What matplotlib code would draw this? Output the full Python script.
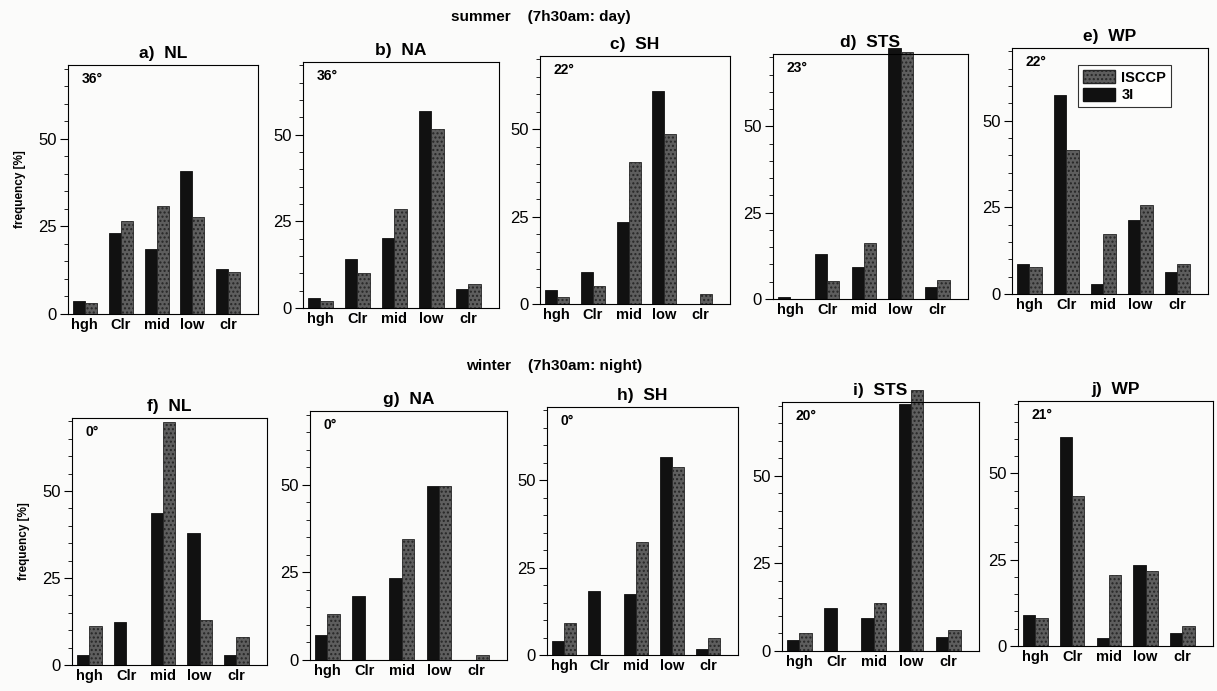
import matplotlib
matplotlib.use("Agg")
import matplotlib.pyplot as plt
from matplotlib.patches import Patch
from matplotlib.ticker import MultipleLocator
import numpy as np

plt.rcParams['font.family'] = ['Liberation Sans', 'DejaVu Sans']

categories = ['hgh', 'Clr', 'mid', 'low', 'clr']

# summer (7h30am: day)
titles_summer = ['a)  NL', 'b)  NA', 'c)  SH', 'd)  STS', 'e)  WP']
angles_summer = ['36°', '36°', '22°', '23°', '22°']
i3_summer = [
    [3.8, 23.2, 18.5, 40.8, 12.9],
    [2.8, 14.1, 20.2, 56.8, 5.6],
    [3.9, 9.1, 23.4, 60.9, 0.0],
    [0.7, 12.9, 9.2, 72.8, 3.5],
    [8.7, 57.5, 3.0, 21.4, 6.4],
]
isccp_summer = [
    [3.0, 26.4, 30.7, 27.8, 12.0],
    [1.9, 10.0, 28.5, 51.7, 6.8],
    [2.1, 5.2, 40.7, 48.8, 2.8],
    [0.0, 5.1, 16.3, 71.6, 5.6],
    [7.8, 41.5, 17.2, 25.7, 8.6],
]

# winter (7h30am: night)
titles_winter = ['f)  NL', 'g)  NA', 'h)  SH', 'i)  STS', 'j)  WP']
angles_winter = ['0°', '0°', '0°', '20°', '21°']
i3_winter = [
    [3.0, 12.4, 43.6, 37.8, 3.0],
    [7.0, 18.3, 23.4, 49.6, 0.0],
    [4.0, 18.3, 17.5, 56.6, 1.8],
    [3.0, 12.3, 9.5, 70.5, 3.9],
    [9.0, 60.5, 2.3, 23.6, 3.7],
]
isccp_winter = [
    [11.1, 0.0, 69.8, 12.9, 8.1],
    [13.2, 0.0, 34.6, 49.6, 1.5],
    [9.1, 0.0, 32.4, 53.7, 5.0],
    [5.2, 0.0, 13.7, 74.4, 6.0],
    [8.1, 43.4, 20.5, 21.7, 5.7],
]

W, H = 1217, 691
fig = plt.figure(figsize=(W / 100, H / 100), dpi=100)
fig.patch.set_facecolor('#fbfbfa')

# panel boxes in pixels: left, top, width, bottom (scan is slightly tilted)
boxes_summer = [(68, 65, 190, 314), (303, 62, 196, 308), (540, 56, 190, 304),
                (773, 54, 195, 299), (1012, 48, 196, 294)]
boxes_winter = [(72, 418, 195, 665), (310, 411, 197, 660), (547, 407, 191, 655),
                (782, 402, 197, 651), (1018, 401, 195, 646)]

black = '#111111'
gray = '#5e5e5e'
x = np.arange(len(categories))
bw = 0.335


def panel(box, title, angle, i3, isccp, ylabel=False, legend=False):
    l, t, w, b = box
    ax = fig.add_axes([l / W, 1 - b / H, w / W, (b - t) / H])
    ax.set_facecolor('none')
    ax.bar(x - bw / 2, i3, bw, color=black, edgecolor=black, lw=0.6, clip_on=False)
    ax.bar(x + bw / 2, isccp, bw, color=gray, edgecolor='#262626', lw=0.6,
           hatch='....', clip_on=False)
    ax.set_xlim(-0.47, 4.83)
    ax.set_ylim(0, 71)
    ax.set_yticks([0, 25, 50])
    ax.yaxis.set_minor_locator(MultipleLocator(5))
    ax.tick_params(axis='y', which='major', length=6, width=0.8, labelsize=12, pad=2)
    ax.tick_params(axis='y', which='minor', length=3, width=0.6)
    ax.set_xticks(x)
    ax.set_xticklabels(categories, fontweight='bold', fontsize=10.5)
    ax.tick_params(axis='x', length=0, pad=3)
    for s in ax.spines.values():
        s.set_linewidth(0.8)
    ax.set_title(title, fontweight='bold', fontsize=12.5, pad=5)
    ax.text(0.07, 0.97, angle, transform=ax.transAxes, fontweight='bold',
            fontsize=10, va='top', ha='left')
    if ylabel:
        ax.set_ylabel('frequency [%]', fontweight='bold', fontsize=8.5, labelpad=9)
    if legend:
        handles = [Patch(facecolor=gray, edgecolor='#262626', hatch='....', label='ISCCP'),
                   Patch(facecolor=black, edgecolor=black, label='3I')]
        lg = ax.legend(handles=handles, loc='upper right', bbox_to_anchor=(0.85, 0.96),
                       frameon=True, fancybox=False, prop={'weight': 'bold', 'size': 10.5},
                       handlelength=2.2, handleheight=1.0, borderpad=0.35,
                       labelspacing=0.2, handletextpad=0.4)
        lg.get_frame().set_edgecolor('black')
        lg.get_frame().set_linewidth(0.8)
    return ax


for k in range(5):
    panel(boxes_summer[k], titles_summer[k], angles_summer[k], i3_summer[k],
          isccp_summer[k], ylabel=(k == 0), legend=(k == 4))
    panel(boxes_winter[k], titles_winter[k], angles_winter[k], i3_winter[k],
          isccp_winter[k], ylabel=(k == 0))

fig.text(541 / W, 1 - 17 / H, 'summer    (7h30am: day)', ha='center', va='center',
         fontweight='bold', fontsize=11)
fig.text(554 / W, 1 - 366 / H, 'winter    (7h30am: night)', ha='center', va='center',
         fontweight='bold', fontsize=11)

fig.savefig('out.png', dpi=100, facecolor=fig.get_facecolor())
